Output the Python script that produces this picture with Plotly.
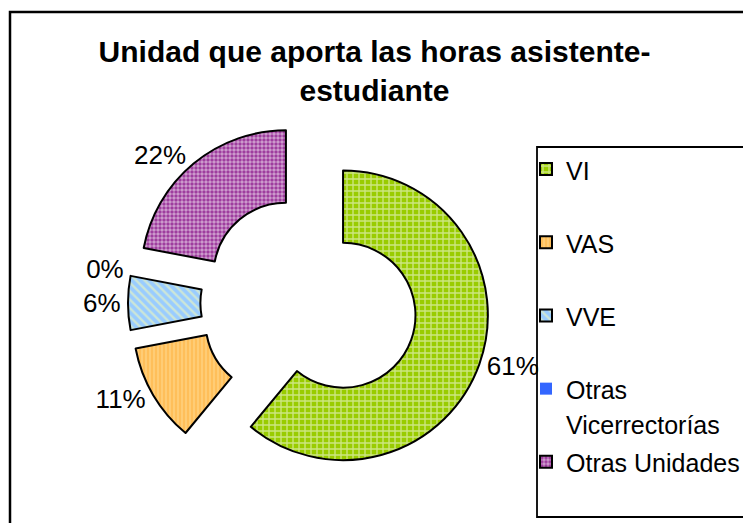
import plotly.graph_objects as go

# ---- data ----
categories = ["VI", "VAS", "VVE", "Otras Vicerrectorías", "Otras Unidades"]
percent_values = [61, 11, 6, 0, 22]
title_text = "Unidad que aporta las horas asistente-<br>estudiante"

# ---- styles ----
bg_colors = ["#99CC00", "#FFBF5A", "#99CCFF", "#3366FF", "#993399"]
fg_colors = ["#FFFFFF", "#FFE6A8", "#FFFFB0", "#3366FF", "#FFFFFF"]
shapes_pat = ["+", "|", "\\", "", "."]
sizes_pat = [6, 4, 6, 8, 4]
solid_pat = [0.4, 0.35, 0.4, 0.3, 0.6]
line_widths = [2, 2, 2, 0, 2]

FONT = "Liberation Sans, Arial, sans-serif"
W, H = 751, 523
OFF = 8  # page body margin offset


def legend_label(name):
    # Excel-style wrapping / spacing of legend entries
    parts = name.split(" ")
    if name == "Otras Vicerrectorías":
        txt = "<br>".join(parts)
    elif len(parts) == 1:
        txt = name + "<br>&nbsp;"
    else:
        txt = name
    return '<span style="font-size:25px">' + txt.replace("<br>", '</span><br><span style="font-size:25px">') + "</span>"


legend_labels = [legend_label(c) for c in categories]

fig = go.Figure(go.Pie(
    labels=legend_labels,
    values=percent_values,
    sort=False,
    direction="clockwise",
    rotation=0,
    hole=0.5,
    pull=0.25,
    texttemplate="%{percent:.0%}",
    textposition="outside",
    textfont=dict(family=FONT, size=26, color="black"),
    marker=dict(
        colors=bg_colors,
        line=dict(color="black", width=line_widths),
        pattern=dict(shape=shapes_pat, fgcolor=fg_colors, bgcolor=bg_colors,
                     size=sizes_pat, solidity=solid_pat, fillmode="overlay"),
    ),
    domain=dict(x=[(128 - OFF) / W, (490 - OFF) / W],
                y=[1 - (484 - OFF) / H, 1 - (122 - OFF) / H]),
    hovertemplate="%{percent:.0%}<extra></extra>",
))

fig.update_layout(
    width=W, height=H,
    margin=dict(l=0, r=0, t=0, b=0, autoexpand=False),
    paper_bgcolor="white",
    plot_bgcolor="white",
    font=dict(family=FONT, size=26, color="black"),
    title=dict(text=title_text, x=(374.5 - OFF) / W, xanchor="center",
               y=1 - 54 / H, yanchor="top",
               font=dict(family=FONT, size=30, color="black", weight="bold")),
    legend=dict(x=(537 - OFF) / W, y=1 - (145 - OFF) / H, xanchor="left", yanchor="top",
                borderwidth=0, bgcolor="rgba(0,0,0,0)",
                font=dict(family=FONT, size=27, color="black"),
                valign="top", indentation=-11, traceorder="normal"),
    shapes=[
        dict(type="rect", xref="paper", yref="paper",
             x0=(10 - OFF) / W, x1=1.05, y0=-0.05, y1=1 - (12 - OFF) / H,
             line=dict(color="black", width=2.5), fillcolor="rgba(0,0,0,0)",
             layer="below"),
        dict(type="rect", xref="paper", yref="paper",
             x0=(537 - OFF) / W, x1=1.05, y0=1 - (517 - OFF) / H, y1=1 - (147 - OFF) / H,
             line=dict(color="black", width=1.8), fillcolor="white",
             layer="below"),
    ],
)

fig.write_html("out.html")
